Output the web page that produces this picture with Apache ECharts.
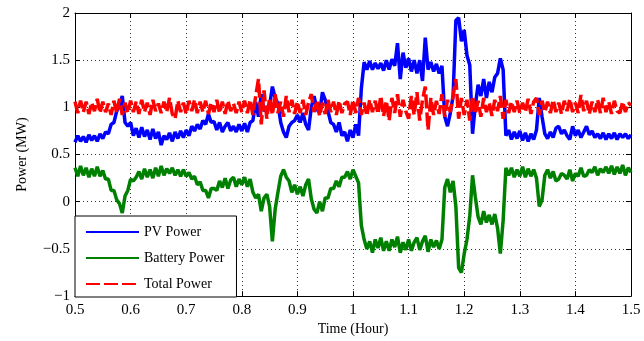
<!DOCTYPE html>
<html>
<head>
<meta charset="utf-8">
<script src="https://cdn.jsdelivr.net/npm/echarts@6/dist/echarts.min.js"></script>
<style>
  html, body { margin: 0; padding: 0; background: #fff; }
  #chart { width: 644px; height: 341px; }
</style>
</head>
<body>
<div id="chart"></div>
<script>
// sampling grid (hours), one sample every 0.005 h
var tStart = 0.5, tStep = 0.005;

// PV Power (MW), one row per 0.05 h
var pvPower = [
  0.63, 0.70, 0.64, 0.69, 0.63, 0.71, 0.65, 0.70, 0.64, 0.72,
  0.67, 0.74, 0.72, 0.82, 0.84, 0.96, 1.02, 1.12, 0.84, 0.80,
  0.84, 0.70, 0.78, 0.68, 0.79, 0.69, 0.76, 0.66, 0.77, 0.67,
  0.74, 0.60, 0.70, 0.66, 0.73, 0.64, 0.74, 0.67, 0.75, 0.68,
  0.76, 0.70, 0.80, 0.75, 0.82, 0.77, 0.86, 0.82, 0.93, 0.84,
  0.85, 0.76, 0.84, 0.74, 0.80, 0.84, 0.75, 0.80, 0.74, 0.82,
  0.75, 0.83, 0.74, 0.84, 0.86, 1.06, 0.90, 1.14, 0.96, 1.00,
  1.02, 1.22, 1.10, 1.04, 0.84, 0.74, 0.68, 0.80, 0.84, 0.86,
  0.92, 0.84, 0.94, 0.82, 0.76, 1.00, 1.12, 0.98, 0.94, 1.16,
  1.08, 0.96, 0.84, 0.82, 0.74, 0.84, 0.70, 0.74, 0.64, 0.76,
  0.68, 0.82, 0.70, 1.20, 1.48, 1.40, 1.49, 1.40, 1.47, 1.41,
  1.47, 1.39, 1.50, 1.40, 1.51, 1.44, 1.68, 1.30, 1.58, 1.42,
  1.52, 1.38, 1.50, 1.36, 1.50, 1.28, 1.74, 1.40, 1.48, 1.38,
  1.46, 1.36, 1.44, 0.90, 0.80, 0.94, 1.12, 1.92, 1.95, 1.70,
  1.82, 1.55, 1.45, 0.72, 1.02, 1.24, 1.12, 1.30, 1.10, 1.27,
  1.16, 1.32, 1.36, 1.52, 1.40, 0.70, 0.76, 0.66, 0.74, 0.67,
  0.75, 0.65, 0.73, 0.64, 0.72, 0.66, 0.76, 1.10, 0.90, 0.72,
  0.67, 0.74, 0.68, 0.78, 0.80, 0.72, 0.76, 0.70, 0.66, 0.80,
  0.70, 0.76, 0.68, 0.74, 0.80, 0.71, 0.75, 0.68, 0.72, 0.67,
  0.73, 0.66, 0.72, 0.67, 0.73, 0.66, 0.72, 0.68, 0.72, 0.67,
  0.71
];

// Battery Power (MW)
var batteryPower = [
  0.36, 0.27, 0.38, 0.28, 0.36, 0.26, 0.35, 0.27, 0.37, 0.27,
  0.33, 0.24, 0.24, 0.12, 0.12, 0.02, -0.02, -0.12, 0.06, 0.12,
  0.24, 0.22, 0.26, 0.32, 0.24, 0.35, 0.26, 0.34, 0.25, 0.36,
  0.27, 0.38, 0.28, 0.35, 0.30, 0.36, 0.28, 0.34, 0.27, 0.34,
  0.27, 0.31, 0.24, 0.27, 0.18, 0.21, 0.12, 0.12, 0.04, 0.14,
  0.14, 0.12, 0.22, 0.15, 0.25, 0.14, 0.23, 0.26, 0.16, 0.24,
  0.18, 0.26, 0.16, 0.24, 0.10, 0.04, 0.08, -0.10, 0.04, 0.08,
  -0.05, -0.42, -0.08, 0.10, 0.27, 0.34, 0.26, 0.22, 0.10, 0.18,
  0.08, 0.16, 0.06, 0.18, 0.24, 0.03, -0.08, -0.12, 0.00, -0.10,
  0.04, 0.04, 0.14, 0.14, 0.22, 0.16, 0.26, 0.26, 0.32, 0.24,
  0.34, 0.27, 0.20, -0.25, -0.40, -0.50, -0.42, -0.54, -0.40, -0.49,
  -0.38, -0.52, -0.42, -0.52, -0.40, -0.48, -0.37, -0.54, -0.43, -0.51,
  -0.40, -0.52, -0.43, -0.38, -0.51, -0.42, -0.36, -0.53, -0.40, -0.48,
  -0.41, -0.50, -0.40, 0.15, 0.24, 0.10, 0.22, -0.05, -0.70, -0.75,
  -0.55, -0.40, -0.15, 0.28, 0.05, -0.16, -0.24, -0.10, -0.22, -0.14,
  -0.24, -0.13, -0.28, -0.55, -0.20, 0.36, 0.28, 0.36, 0.26, 0.34,
  0.27, 0.37, 0.26, 0.35, 0.27, 0.34, 0.25, -0.05, 0.02, 0.28,
  0.34, 0.25, 0.32, 0.22, 0.24, 0.30, 0.28, 0.24, 0.34, 0.22,
  0.30, 0.27, 0.36, 0.27, 0.28, 0.34, 0.31, 0.37, 0.28, 0.35,
  0.31, 0.37, 0.30, 0.38, 0.29, 0.37, 0.30, 0.39, 0.28, 0.36,
  0.31
];

// Total Power (MW)
var totalPower = [
  1.06, 0.94, 1.07, 0.95, 1.06, 0.93, 1.05, 0.96, 1.09, 0.94,
  1.06, 0.95, 1.04, 0.92, 1.07, 0.94, 1.09, 0.92, 1.05, 0.94,
  1.07, 0.95, 1.06, 0.93, 1.08, 0.95, 1.05, 0.92, 1.08, 0.96,
  1.04, 0.94, 1.06, 0.95, 1.10, 0.93, 0.88, 1.07, 0.95, 1.05,
  0.93, 1.07, 0.96, 1.08, 0.94, 1.06, 0.95, 1.07, 0.93, 1.05,
  0.95, 1.08, 0.94, 1.06, 0.93, 1.07, 0.96, 1.04, 0.94, 1.06,
  0.95, 1.07, 0.94, 1.08, 0.92, 1.12, 1.30, 0.82, 1.18, 0.88,
  1.10, 0.92, 1.14, 0.94, 1.06, 0.90, 1.12, 0.95, 1.08, 0.93,
  1.06, 0.94, 1.08, 0.92, 1.05, 1.14, 0.95, 1.07, 0.91, 1.05,
  0.93, 1.08, 0.95, 1.06, 0.92, 1.07, 0.94, 1.04, 1.06, 0.92,
  1.08, 0.94, 1.10, 0.92, 1.05, 0.91, 1.08, 0.95, 1.07, 0.93,
  1.12, 0.91, 1.07, 0.86, 1.10, 0.94, 1.14, 0.90, 1.08, 0.96,
  0.88, 1.12, 0.92, 1.16, 0.86, 1.08, 1.22, 0.76, 1.10, 0.92,
  1.07, 0.93, 1.14, 0.90, 1.08, 0.95, 1.12, 1.30, 0.88, 1.10,
  0.92, 1.08, 0.86, 1.12, 0.93, 1.07, 0.90, 1.10, 0.95, 1.05,
  0.91, 1.08, 0.96, 1.12, 0.88, 1.08, 0.94, 1.06, 0.95, 1.07,
  0.94, 1.05, 0.95, 1.09, 0.93, 1.06, 1.10, 0.92, 1.07, 0.95,
  1.06, 0.94, 1.08, 0.95, 1.05, 0.93, 1.07, 0.96, 1.09, 0.95,
  1.05, 0.94, 1.13, 0.96, 1.07, 0.93, 1.06, 0.95, 1.08, 0.94,
  1.10, 0.95, 1.06, 0.93, 1.07, 0.96, 0.94, 1.06, 0.95, 1.05,
  1.02
];

var seriesNames = ['PV Power', 'Battery Power', 'Total Power'];
var seriesColors = ['#0000ff', '#008000', '#ff0000'];

var font = "'Liberation Serif', 'Times New Roman', serif";

function pairs(values) {
  return values.map(function (v, i) {
    return [+(tStart + i * tStep).toFixed(3), v];
  });
}

function minusSign(v) {
  return String(v).replace('-', '\u2212');
}

var myChart = echarts.init(document.getElementById('chart'));

var option = {
  animation: false,
  backgroundColor: '#fff',
  textStyle: { fontFamily: font },
  grid: { left: 75, right: 13, top: 13, bottom: 44 },
  legend: {
    orient: 'vertical',
    left: 75,
    top: 216,
    padding: [9, 12, 6, 10],
    itemWidth: 53,
    itemHeight: 14,
    itemGap: 12,
    backgroundColor: '#fff',
    borderColor: '#000',
    borderWidth: 1,
    itemStyle: { opacity: 0 },
    textStyle: { fontFamily: font, fontSize: 14, color: '#000' },
    data: seriesNames
  },
  xAxis: [
    {
      type: 'value',
      min: 0.5,
      max: 1.5,
      interval: 0.1,
      name: 'Time (Hour)',
      nameLocation: 'middle',
      nameGap: 24,
      nameTextStyle: { fontFamily: font, fontSize: 14, color: '#000' },
      axisLine: { show: true, onZero: false, lineStyle: { color: '#000', width: 1 } },
      axisTick: { show: true, inside: true, length: 5, lineStyle: { color: '#000' } },
      axisLabel: { color: '#000', fontSize: 15, fontFamily: font, margin: 6 },
      splitLine: { show: true, lineStyle: { color: '#333', width: 1, type: [1, 3] } }
    },
    {
      type: 'value',
      position: 'top',
      min: 0.5,
      max: 1.5,
      interval: 0.1,
      axisLine: { show: true, onZero: false, lineStyle: { color: '#000', width: 1 } },
      axisTick: { show: true, inside: true, length: 5, lineStyle: { color: '#000' } },
      axisLabel: { show: false },
      splitLine: { show: false }
    }
  ],
  yAxis: [
    {
      type: 'value',
      min: -1,
      max: 2,
      interval: 0.5,
      name: 'Power (MW)',
      nameLocation: 'middle',
      nameGap: 46,
      nameTextStyle: { fontFamily: font, fontSize: 14, color: '#000' },
      axisLine: { show: true, onZero: false, lineStyle: { color: '#000', width: 1 } },
      axisTick: { show: true, inside: true, length: 5, lineStyle: { color: '#000' } },
      axisLabel: { color: '#000', fontSize: 15, fontFamily: font, margin: 5, formatter: minusSign },
      splitLine: { show: true, lineStyle: { color: '#333', width: 1, type: [1, 3] } }
    },
    {
      type: 'value',
      position: 'right',
      min: -1,
      max: 2,
      interval: 0.5,
      axisLine: { show: true, onZero: false, lineStyle: { color: '#000', width: 1 } },
      axisTick: { show: true, inside: true, length: 5, lineStyle: { color: '#000' } },
      axisLabel: { show: false },
      splitLine: { show: false }
    }
  ],
  series: [
    {
      name: seriesNames[0],
      type: 'line',
      symbol: 'none',
      data: pairs(pvPower),
      lineStyle: { color: seriesColors[0], width: 3.5 },
      itemStyle: { color: seriesColors[0] }
    },
    {
      name: seriesNames[1],
      type: 'line',
      symbol: 'none',
      data: pairs(batteryPower),
      lineStyle: { color: seriesColors[1], width: 3.5 },
      itemStyle: { color: seriesColors[1] }
    },
    {
      name: seriesNames[2],
      type: 'line',
      symbol: 'none',
      data: pairs(totalPower),
      lineStyle: { color: seriesColors[2], width: 3.5, type: [14, 4] },
      itemStyle: { color: seriesColors[2] }
    }
  ]
};

myChart.setOption(option);
</script>
</body>
</html>
